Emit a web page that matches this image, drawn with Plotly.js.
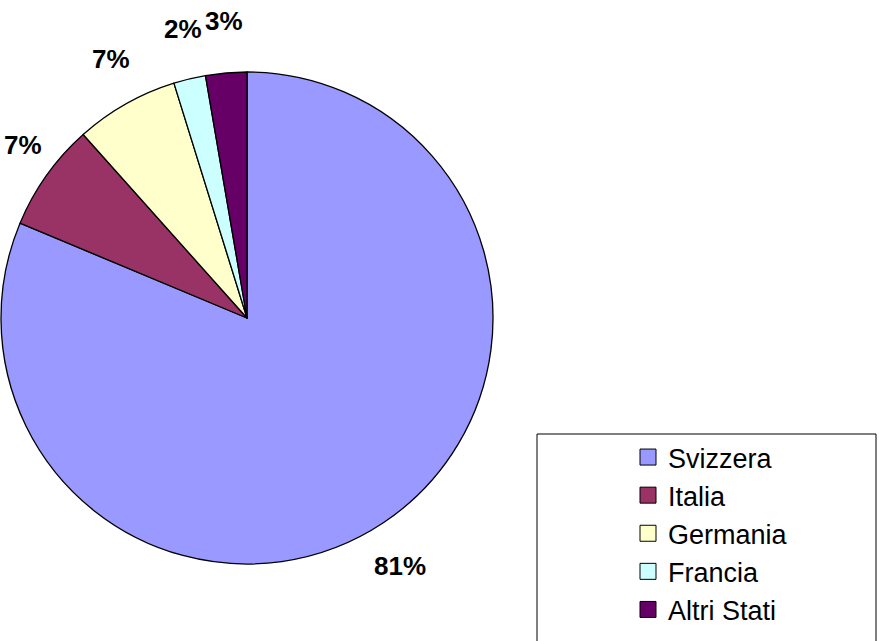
<!DOCTYPE html>
<html>
<head>
<meta charset="utf-8">
<script src="https://cdn.plot.ly/plotly-3.0.1.min.js"></script>
<style>html,body{margin:0;padding:0;background:#fff;}#chart{width:879px;height:641px;}</style>
</head>
<body>
<div id="chart"></div>
<script>
const categories = ["Svizzera", "Italia", "Germania", "Francia", "Altri Stati"];
const shares = [81.3, 7.1, 6.8, 2.1, 2.7];
const sliceColors = ["#9999FF", "#993366", "#FFFFCC", "#CCFFFF", "#660066"];

const W = 879, H = 641;
const cx = 247, cy = 318, R = 246;
const labelRx = 1.12 * R, labelRy = 1.21 * R;
const FONT = "Liberation Sans, Arial, sans-serif";

const pie = {
  type: "pie",
  labels: categories,
  values: shares,
  sort: false,
  direction: "clockwise",
  rotation: 0,
  marker: { colors: sliceColors, line: { color: "#000000", width: 1.3 } },
  textinfo: "none",
  showlegend: false,
  hoverinfo: "label+percent",
  domain: { x: [(cx - R) / W, (cx + R) / W], y: [(H - cy - R) / H, (H - cy + R) / H] }
};

// legend entries (one per category) drawn by the library's legend
const legendTraces = categories.map((c, i) => ({
  type: "scatter", mode: "markers", name: c,
  x: [null], y: [null],
  marker: { symbol: "square", size: 16, color: sliceColors[i], line: { color: "#000000", width: 1 } },
  hoverinfo: "skip", showlegend: true
}));

// percentage labels placed outward from each slice's mid angle
const total = shares.reduce((a, b) => a + b, 0);
let cum = 0;
const annotations = shares.map((v) => {
  const mid = (cum + v / 2) / total * 2 * Math.PI;
  cum += v;
  const px = cx + Math.sin(mid) * labelRx;
  const py = cy - Math.cos(mid) * labelRy;
  return {
    xref: "paper", yref: "paper",
    x: px / W, y: 1 - py / H, xanchor: "center", yanchor: "middle",
    text: Math.round(v / total * 100) + "%",
    showarrow: false,
    font: { family: FONT, size: 26, color: "#000000", weight: "bold" }
  };
});

const layout = {
  width: W, height: H,
  margin: { l: 0, r: 0, t: 0, b: 0 },
  paper_bgcolor: "#ffffff",
  plot_bgcolor: "rgba(0,0,0,0)",
  xaxis: { visible: false, domain: [0.99, 1] },
  yaxis: { visible: false, domain: [0.99, 1] },
  showlegend: true,
  legend: {
    x: 628 / W, xanchor: "left",
    y: 1 - 433 / H, yanchor: "top",
    font: { family: FONT, size: 27, color: "#000000" },
    bgcolor: "rgba(0,0,0,0)",
    borderwidth: 0,
    itemsizing: "trace"
  },
  annotations: annotations,
  shapes: [{
    type: "rect", xref: "paper", yref: "paper",
    x0: 537 / W, x1: 876 / W, y0: -0.05, y1: 1 - 434 / H,
    line: { color: "#000000", width: 1 }, fillcolor: "rgba(0,0,0,0)", layer: "below"
  }]
};

Plotly.newPlot("chart", [pie].concat(legendTraces), layout, { displayModeBar: false, staticPlot: true });
</script>
</body>
</html>
